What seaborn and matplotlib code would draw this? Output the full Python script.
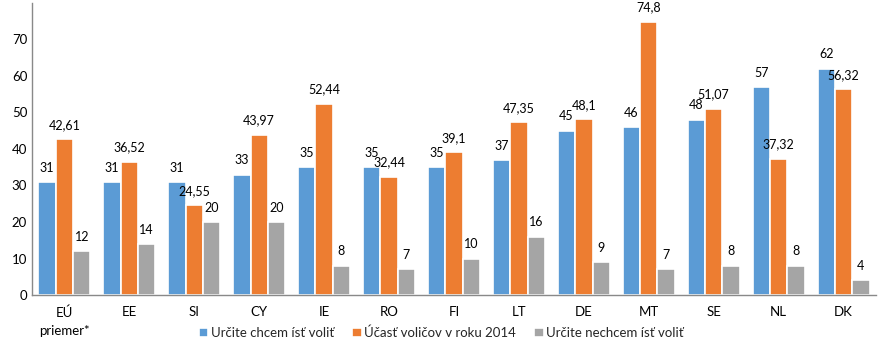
import matplotlib
matplotlib.use("Agg")
import matplotlib.pyplot as plt
import seaborn as sns
import pandas as pd

categories = ["EÚ\npriemer*", "EE", "SI", "CY", "IE", "RO", "FI", "LT", "DE", "MT", "SE", "NL", "DK"]
series_names = ["Určite chcem ísť voliť", "Účasť voličov v roku 2014", "Určite nechcem ísť voliť"]
chcem = [31, 31, 31, 33, 35, 35, 35, 37, 45, 46, 48, 57, 62]
ucast = [42.61, 36.52, 24.55, 43.97, 52.44, 32.44, 39.1, 47.35, 48.1, 74.8, 51.07, 37.32, 56.32]
nechcem = [12, 14, 20, 20, 8, 7, 10, 16, 9, 7, 8, 8, 4]
colors = ["#5B9BD5", "#ED7D31", "#A5A5A5"]

rows = []
for name, vals in zip(series_names, [chcem, ucast, nechcem]):
    for c, v in zip(categories, vals):
        rows.append({"cat": c, "series": name, "val": v})
df = pd.DataFrame(rows)

sns.set_theme(style="white")
plt.rcParams['font.family'] = ['Lato', 'DejaVu Sans']

fig = plt.figure(figsize=(8.79, 3.41), dpi=100)
ax = fig.add_axes([32/879, 46/341, 844/879, 292/341])
sns.barplot(data=df, x="cat", y="val", hue="series", palette=colors,
            order=categories, hue_order=series_names, width=0.8, saturation=1,
            edgecolor="white", linewidth=1.2, ax=ax, legend=True)

def fmt(v):
    return ("%g" % v).replace(".", ",")

for cont, vals in zip(ax.containers, [chcem, ucast, nechcem]):
    ax.bar_label(cont, labels=[fmt(v) for v in vals], padding=6, fontsize=9, color="#000000")

ax.set_ylim(0, 80)
ax.set_xlim(-0.5, 12.5)
ax.set_yticks(range(0, 80, 10))
ax.set_xlabel("")
ax.set_ylabel("")
ax.tick_params(axis="both", length=0, labelsize=9.5, colors="#000000")
ax.tick_params(axis="x", pad=8)
for lbl in ax.get_xticklabels():
    lbl.set_linespacing(1.6)
for s in ["top", "right"]:
    ax.spines[s].set_visible(False)
for s in ["left", "bottom"]:
    ax.spines[s].set_color("#898989")
    ax.spines[s].set_linewidth(1)

ax.legend(loc="lower center", bbox_to_anchor=(0.485, -0.17), ncol=3, frameon=False,
          fontsize=9.5, handlelength=0.7, handleheight=0.7, handletextpad=0.2,
          columnspacing=1.4, borderaxespad=0)

fig.savefig("out.png", dpi=100)
